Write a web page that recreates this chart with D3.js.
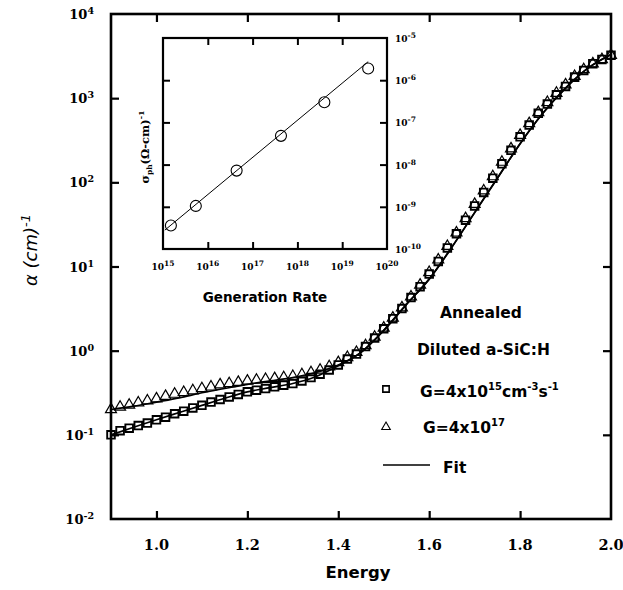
<!DOCTYPE html>
<html><head><meta charset="utf-8">
<script src="https://cdn.jsdelivr.net/npm/d3@7"></script>
<style>
  body { margin: 0; background: #fff; }
  svg { display: block; }
  .tick-lbl { font-family: "DejaVu Serif", serif; font-weight: bold; fill: #000; }
  .sans-b { font-family: "DejaVu Sans", sans-serif; font-weight: bold; fill: #000; }
</style>
</head><body>
<svg id="chart" width="623" height="590"></svg>
<script>
// Photon energy (eV) of the measured points
const energy = [0.90,0.92,0.94,0.96,0.98,1.00,1.02,1.04,1.06,1.08,1.10,1.12,1.14,1.16,1.18,1.20,1.22,1.24,1.26,1.28,
  1.30,1.32,1.34,1.36,1.38,1.40,1.42,1.44,1.46,1.48,1.50,1.52,1.54,1.56,1.58,1.60,1.62,1.64,1.66,1.68,
  1.70,1.72,1.74,1.76,1.78,1.80,1.82,1.84,1.86,1.88,1.90,1.92,1.94,1.96,1.98,2.00];
// Absorption coefficient (cm^-1), G = 4x10^15 cm^-3 s^-1 (squares)
const alphaG15 = [0.100,0.112,0.120,0.129,0.138,0.151,0.162,0.178,0.191,0.209,0.224,0.245,0.263,0.282,0.302,0.324,0.339,0.355,0.372,0.389,
  0.407,0.437,0.479,0.525,0.589,0.676,0.794,0.912,1.12,1.41,1.82,2.40,3.16,4.27,5.75,8.13,11.5,16.6,24.5,35.5,
  52.5,75.9,112,166,240,347,479,661,851,1096,1380,1778,2138,2570,2884,3236];
// Absorption coefficient (cm^-1), G = 4x10^17 (triangles)
const alphaG17 = [0.200,0.214,0.226,0.240,0.254,0.269,0.288,0.305,0.320,0.335,0.355,0.372,0.394,0.407,0.422,0.437,0.447,0.457,0.468,0.479,
  0.495,0.519,0.550,0.589,0.646,0.724,0.832,0.955,1.15,1.45,1.86,2.45,3.24,4.37,6.03,8.51,12.0,17.4,25.1,37.2,
  55.0,79.4,117,174,251,363,501,676,891,1148,1445,1820,2188,2570,2884,3236];
// Fitted curves
const fitEnergy = [0.90,0.95,1.00,1.05,1.10,1.15,1.20,1.25,1.30,1.35,1.40,1.45,1.50,1.55,1.60,1.65,1.70,1.75,1.80,1.85,1.90,1.95,2.00];
const fitG15 = [0.100,0.123,0.151,0.184,0.224,0.272,0.324,0.363,0.407,0.490,0.661,0.955,1.74,3.55,7.08,17.0,43.7,112,288,661,1318,2291,3311];
const fitG17 = [0.200,0.219,0.245,0.275,0.316,0.355,0.398,0.437,0.479,0.550,0.676,0.955,1.74,3.55,7.08,17.0,43.7,112,288,661,1318,2291,3311];

const xTicks = [1.0, 1.2, 1.4, 1.6, 1.8, 2.0];
const xTickLabels = ["1.0", "1.2", "1.4", "1.6", "1.8", "2.0"];
const yTicks = [1e-2, 1e-1, 1e0, 1e1, 1e2, 1e3, 1e4];
const yTickExp = ["-2", "-1", "0", "1", "2", "3", "4"];

// Inset: photoconductivity vs generation rate
const genRate = [1.5e15, 5.4e15, 4.4e16, 4.3e17, 4.0e18, 3.8e19];
const sigmaPh = [3.6e-10, 1.05e-9, 7.2e-9, 4.8e-8, 3.0e-7, 1.9e-6];
const fitGen = [1.1e15, 3.8e19];
const fitSigma = [2.8e-10, 2.75e-6];
const insetXTicks = [1e15, 1e16, 1e17, 1e18, 1e19, 1e20];
const insetXExp = ["15", "16", "17", "18", "19", "20"];
const insetYTicks = [1e-10, 1e-9, 1e-8, 1e-7, 1e-6, 1e-5];
const insetYExp = ["-10", "-9", "-8", "-7", "-6", "-5"];

const svg = d3.select("#chart");

// ---------- main panel ----------
const M = { left: 111, right: 611, top: 14, bottom: 519 };
const x = d3.scaleLinear().domain([0.9, 2.0]).range([M.left, M.right]);
const y = d3.scaleLog().domain([1e-2, 1e4]).range([M.bottom, M.top]);

function styleAxis(g, w) {
  g.select(".domain").remove();
  g.selectAll(".tick line").attr("stroke", "#000").attr("stroke-width", w);
  g.selectAll(".tick text").remove();
}
const innerY = yTicks.slice(1, -1);
const innerX = xTicks.slice(0, -1);
svg.append("g").attr("transform", `translate(${M.left},0)`)
  .call(d3.axisLeft(y).tickValues(innerY).tickSize(-8)).call(g => styleAxis(g, 2.2));
svg.append("g").attr("transform", `translate(${M.right},0)`)
  .call(d3.axisRight(y).tickValues(innerY).tickSize(-8)).call(g => styleAxis(g, 2.2));
svg.append("g").attr("transform", `translate(0,${M.bottom})`)
  .call(d3.axisBottom(x).tickValues(innerX).tickSize(-8)).call(g => styleAxis(g, 2.2));
svg.append("g").attr("transform", `translate(0,${M.top})`)
  .call(d3.axisTop(x).tickValues(innerX).tickSize(-8)).call(g => styleAxis(g, 2.2));

svg.append("rect")
  .attr("x", M.left).attr("y", M.top)
  .attr("width", M.right - M.left).attr("height", M.bottom - M.top)
  .attr("fill", "none").attr("stroke", "#000").attr("stroke-width", 2.6);

// tick labels
svg.append("g").selectAll("text").data(xTicks).join("text")
  .attr("class", "tick-lbl").attr("font-size", 14.5)
  .attr("x", d => x(d)).attr("y", 550).attr("text-anchor", "middle")
  .text((d, i) => xTickLabels[i]);

const yl = svg.append("g").selectAll("text").data(yTicks).join("text")
  .attr("class", "tick-lbl").attr("font-size", 13)
  .attr("x", 94).attr("y", d => y(d) + 5).attr("text-anchor", "end");
yl.append("tspan").text("10");
yl.append("tspan").attr("font-size", 9.5).attr("dy", -5).text((d, i) => yTickExp[i]);

// axis titles
svg.append("text").attr("class", "sans-b").attr("font-size", 16.5)
  .attr("x", 358).attr("y", 578).attr("text-anchor", "middle").text("Energy");

const yTitle = svg.append("text")
  .attr("transform", "translate(37,250) rotate(-90)")
  .attr("text-anchor", "middle")
  .attr("font-family", "DejaVu Sans, sans-serif").attr("font-style", "italic")
  .attr("font-size", 18);
yTitle.append("tspan").text("α (cm)");
yTitle.append("tspan").attr("font-size", 13).attr("dy", -7).text("-1");

// fit curves
const fitLine = d3.line().x(d => x(d[0])).y(d => y(d[1])).curve(d3.curveMonotoneX);
[fitG15, fitG17].forEach(s => {
  svg.append("path")
    .datum(fitEnergy.map((e, i) => [e, s[i]]))
    .attr("d", fitLine).attr("fill", "none")
    .attr("stroke", "#000").attr("stroke-width", 1.7);
});

// markers
const sq = d3.symbol().type(d3.symbolSquare).size(58);
const tri = d3.symbol().type(d3.symbolTriangle).size(52);
svg.append("g").selectAll("path").data(energy.map((e, i) => [e, alphaG17[i]])).join("path")
  .attr("d", tri)
  .attr("transform", d => `translate(${x(d[0])},${y(d[1])})`)
  .attr("fill", "none").attr("stroke", "#000").attr("stroke-width", 1.2);
svg.append("g").selectAll("path").data(energy.map((e, i) => [e, alphaG15[i]])).join("path")
  .attr("d", sq)
  .attr("transform", d => `translate(${x(d[0])},${y(d[1])})`)
  .attr("fill", "none").attr("stroke", "#000").attr("stroke-width", 1.9);

// legend / annotations
svg.append("text").attr("class", "sans-b").attr("font-size", 15.5)
  .attr("x", 440).attr("y", 318).text("Annealed");
svg.append("text").attr("class", "sans-b").attr("font-size", 15.5)
  .attr("x", 417).attr("y", 355).text("Diluted a-SiC:H");

svg.append("path").attr("d", d3.symbol().type(d3.symbolSquare).size(40))
  .attr("transform", "translate(386,389)")
  .attr("fill", "none").attr("stroke", "#000").attr("stroke-width", 1.6);
const l1 = svg.append("text").attr("class", "sans-b").attr("font-size", 15.5)
  .attr("x", 420).attr("y", 397);
l1.append("tspan").text("G=4x10");
l1.append("tspan").attr("font-size", 10).attr("dy", -7).text("15");
l1.append("tspan").attr("dy", 7).text("cm");
l1.append("tspan").attr("font-size", 10).attr("dy", -7).text("-3");
l1.append("tspan").attr("dy", 7).text("s");
l1.append("tspan").attr("font-size", 10).attr("dy", -7).text("-1");

svg.append("path").attr("d", d3.symbol().type(d3.symbolTriangle).size(32))
  .attr("transform", "translate(386,427)")
  .attr("fill", "none").attr("stroke", "#000").attr("stroke-width", 1.1);
const l2 = svg.append("text").attr("class", "sans-b").attr("font-size", 15.5)
  .attr("x", 423).attr("y", 433);
l2.append("tspan").text("G=4x10");
l2.append("tspan").attr("font-size", 10).attr("dy", -7).text("17");

svg.append("line").attr("x1", 383).attr("x2", 430).attr("y1", 465).attr("y2", 465)
  .attr("stroke", "#000").attr("stroke-width", 1.6);
svg.append("text").attr("class", "sans-b").attr("font-size", 15.5)
  .attr("x", 443).attr("y", 473).text("Fit");

// ---------- inset ----------
const I = { left: 163, right: 387, top: 38, bottom: 249 };
const ix = d3.scaleLog().domain([1e15, 1e20]).range([I.left, I.right]);
const iy = d3.scaleLog().domain([1e-10, 1e-5]).range([I.bottom, I.top]);

const inY = insetYTicks.slice(1, -1);
const inX = insetXTicks.slice(1, -1);
svg.append("g").attr("transform", `translate(${I.left},0)`)
  .call(d3.axisLeft(iy).tickValues(inY).tickSize(-7)).call(g => styleAxis(g, 2));
svg.append("g").attr("transform", `translate(${I.right},0)`)
  .call(d3.axisRight(iy).tickValues(inY).tickSize(-7)).call(g => styleAxis(g, 2));
svg.append("g").attr("transform", `translate(0,${I.bottom})`)
  .call(d3.axisBottom(ix).tickValues(inX).tickSize(-7)).call(g => styleAxis(g, 2));
svg.append("g").attr("transform", `translate(0,${I.top})`)
  .call(d3.axisTop(ix).tickValues(inX).tickSize(-7)).call(g => styleAxis(g, 2));

svg.append("rect")
  .attr("x", I.left).attr("y", I.top)
  .attr("width", I.right - I.left).attr("height", I.bottom - I.top)
  .attr("fill", "none").attr("stroke", "#000").attr("stroke-width", 2.2);

const ixl = svg.append("g").selectAll("text").data(insetXTicks).join("text")
  .attr("class", "tick-lbl").attr("font-size", 9)
  .attr("x", d => ix(d)).attr("y", 270).attr("text-anchor", "middle");
ixl.append("tspan").text("10");
ixl.append("tspan").attr("font-size", 7.5).attr("dy", -4).text((d, i) => insetXExp[i]);

const iyl = svg.append("g").selectAll("text").data(insetYTicks).join("text")
  .attr("class", "tick-lbl").attr("font-size", 9)
  .attr("x", 395).attr("y", d => iy(d) + 4);
iyl.append("tspan").text("10");
iyl.append("tspan").attr("font-size", 7.5).attr("dy", -4).text((d, i) => insetYExp[i]);

svg.append("text").attr("class", "sans-b").attr("font-size", 13.5)
  .attr("x", 265).attr("y", 302).attr("text-anchor", "middle").text("Generation Rate");

const iTitle = svg.append("text")
  .attr("class", "tick-lbl")
  .attr("transform", "translate(149,147) rotate(-90)")
  .attr("text-anchor", "middle").attr("font-size", 11.5);
iTitle.append("tspan").text("σ");
iTitle.append("tspan").attr("font-size", 7.5).attr("dy", 3).text("ph");
iTitle.append("tspan").attr("dy", -3).text("(Ω-cm)");
iTitle.append("tspan").attr("font-size", 8).attr("dy", -5).text("-1");

svg.append("path")
  .datum(fitGen.map((g, i) => [g, fitSigma[i]]))
  .attr("d", d3.line().x(d => ix(d[0])).y(d => iy(d[1])))
  .attr("fill", "none").attr("stroke", "#000").attr("stroke-width", 1);

svg.append("g").selectAll("circle").data(genRate.map((g, i) => [g, sigmaPh[i]])).join("circle")
  .attr("cx", d => ix(d[0])).attr("cy", d => iy(d[1])).attr("r", 5.5)
  .attr("fill", "none").attr("stroke", "#000").attr("stroke-width", 1.1);
</script>
</body></html>
